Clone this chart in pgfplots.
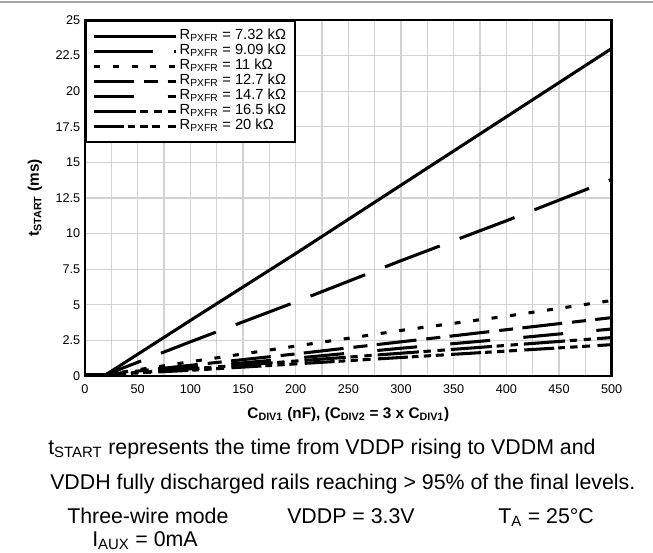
\documentclass[border=0pt]{standalone}
\usepackage{fontspec}
\setmainfont{Liberation Sans}
\usepackage{pgfplots}
\pgfplotsset{compat=1.18}
\begin{document}
\begin{tikzpicture}
\path[use as bounding box] (-63.75pt,-132.75pt) rectangle (426pt,282pt);
\draw[gray!70, line width=1pt] (-63.75pt,280.5pt) -- (426pt,280.5pt);
\begin{axis}[
  at={(0pt,0pt)}, anchor=south west, scale only axis,
  width=395pt, height=267pt,
  xmin=0, xmax=500, ymin=0, ymax=25,
  xtick={0,50,...,500}, minor xtick={25,75,...,475},
  ytick={0,2.5,5,7.5,10,12.5,15,17.5,20,22.5,25},
  grid=both,
  major grid style={gray!35, line width=0.9pt},
  minor grid style={gray!35, line width=0.9pt},
  major tick length=0pt, minor tick length=0pt,
  axis line style={black, line width=1.8pt},
  /pgf/number format/assume math mode=true,
  ticklabel style={font=\fontsize{9.5}{11}\selectfont},
  xticklabel style={yshift=-3pt},
  xlabel={\textbf{C\textsubscript{DIV1} (nF), (C\textsubscript{DIV2} = 3 x C\textsubscript{DIV1})}},
  ylabel={\textbf{t\textsubscript{START} (ms)}},
  xlabel style={font=\fontsize{11.5}{13}\selectfont, at={(axis description cs:0.5,-0.107)}, anchor=center},
  ylabel style={font=\fontsize{11.5}{13}\selectfont, at={(axis description cs:-0.095,0.5)}, anchor=center},
  legend cell align=left,
  legend image code/.code={\draw[#1] (0pt,0pt) -- (55pt,0pt); \path (0pt,0pt) -- (61pt,0pt);},
  legend style={at={(0,1)}, anchor=north west, draw=black, line width=1.5pt, fill=white,
    font=\fontsize{11}{12}\selectfont, row sep=0pt, inner xsep=5pt, inner ysep=6pt,
    nodes={text height=7.5pt, text depth=2.5pt, inner ysep=0.6pt}},
  every axis plot/.append style={line width=2.3pt, black},
]
% R = 7.32 k
\addplot[solid] coordinates {(0,0.1) (20,0.1) (100,3.9) (200,8.6) (300,13.4) (400,18.2) (500,23.0)};
% R = 9.09 k
\addplot[dash pattern=on 44pt off 16pt] coordinates {(0,0.1) (20,0.1) (100,2.4) (200,5.2) (300,8.1) (400,10.9) (500,13.8)};
% R = 11 k
\addplot[dash pattern=on 4.5pt off 9.5pt] coordinates {(0,0.1) (20,0.1) (100,1.0) (200,2.1) (300,3.2) (400,4.2) (500,5.3)};
% R = 12.7 k
\addplot[dash pattern=on 30pt off 7.5pt on 10.5pt off 7pt] coordinates {(0,0.1) (20,0.1) (100,0.75) (200,1.55) (300,2.4) (400,3.25) (500,4.1)};
% R = 14.7 k
\addplot[dash pattern=on 30pt off 25pt] coordinates {(0,0.1) (20,0.1) (100,0.6) (200,1.25) (300,1.95) (400,2.6) (500,3.3)};
% R = 16.5 k
\addplot[dash pattern=on 31pt off 3.5pt on 5.5pt off 5pt on 5.5pt off 4.5pt] coordinates {(0,0.1) (20,0.1) (100,0.5) (200,1.05) (300,1.6) (400,2.15) (500,2.7)};
% R = 20 k
\addplot[dash pattern=on 22.5pt off 3pt on 5pt off 4pt on 5.5pt off 3.5pt on 6pt off 5.5pt] coordinates {(0,0.1) (20,0.1) (100,0.4) (200,0.85) (300,1.3) (400,1.75) (500,2.2)};
\legend{R\textsubscript{PXFR} = 7.32 kΩ, R\textsubscript{PXFR} = 9.09 kΩ, R\textsubscript{PXFR} = 11 kΩ,
  R\textsubscript{PXFR} = 12.7 kΩ, R\textsubscript{PXFR} = 14.7 kΩ, R\textsubscript{PXFR} = 16.5 kΩ, R\textsubscript{PXFR} = 20 kΩ}
\end{axis}
\begin{scope}[every node/.style={anchor=base west, inner sep=0pt, font=\fontsize{16}{19}\selectfont}]
\node at (-27.75pt,-58.5pt) {t\textsubscript{START} represents the time from VDDP rising to VDDM and};
\node at (-26.25pt,-84.75pt) {VDDH fully discharged rails reaching > 95\% of the final levels.};
\node at (-13.5pt,-110.25pt) {Three-wire mode};
\node at (151.5pt,-110.25pt) {VDDP = 3.3V};
\node at (309.75pt,-110.25pt) {T\textsubscript{A} = 25°C};
\node at (5.25pt,-127.75pt) {I\textsubscript{AUX} = 0mA};
\end{scope}
\end{tikzpicture}
\end{document}
